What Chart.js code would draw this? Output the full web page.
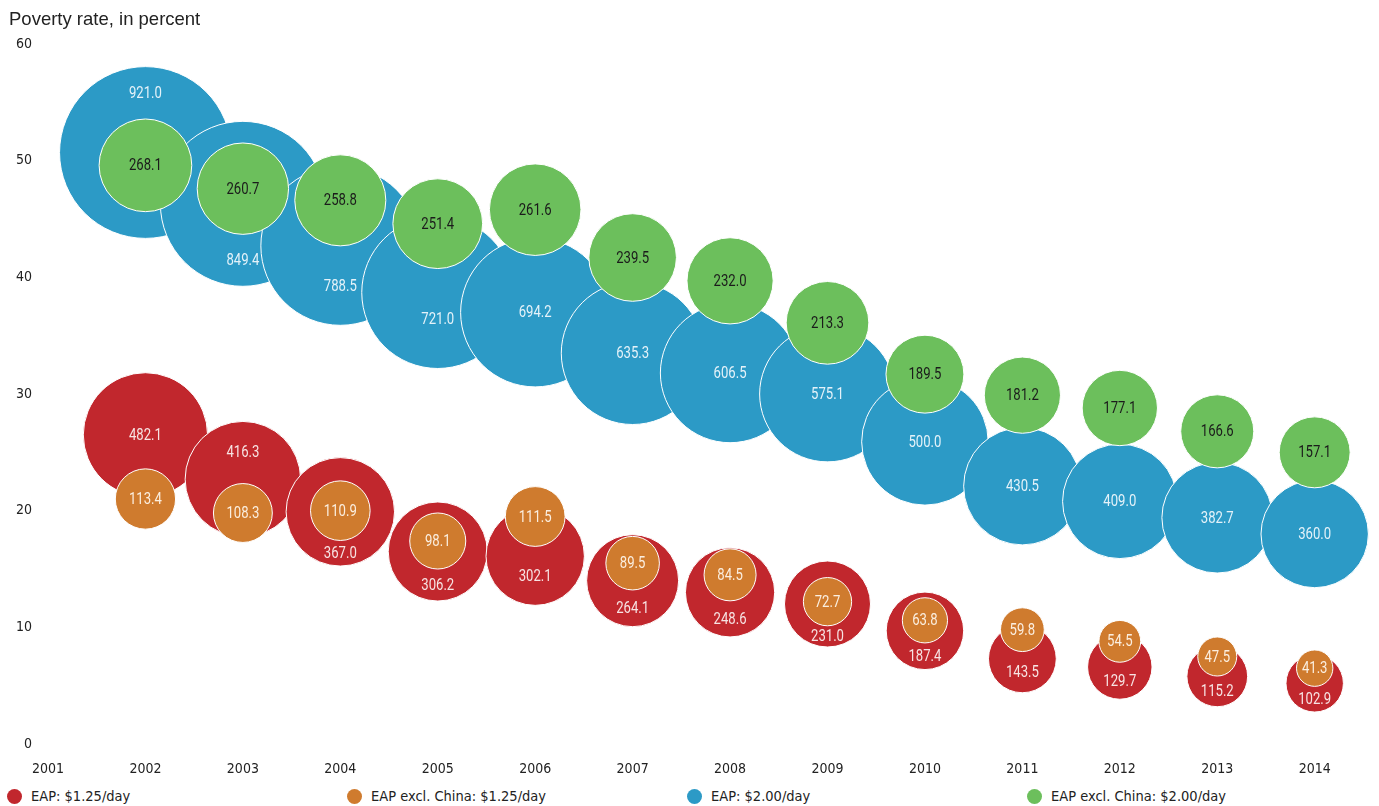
<!DOCTYPE html>
<html>
<head>
<meta charset="utf-8">
<script src="https://cdn.jsdelivr.net/npm/chart.js@4.4.1/dist/chart.umd.min.js"></script>
<style>
  html, body { margin: 0; padding: 0; background: #fff; }
  #wrap { position: relative; width: 1379px; height: 806px; overflow: hidden; }
  #title { position: absolute; left: 9px; top: 8px; font: 18.5px "Liberation Sans", Arial, sans-serif; color: #222; white-space: nowrap; }
  #chart-box { position: absolute; left: 0; top: 0; width: 1379px; height: 785px; }
  #legend { position: absolute; left: 7px; top: 786px; display: flex; }
  .item { width: 340px; height: 20px; display: flex; align-items: center; font: 14.5px "DejaVu Sans Condensed", Roboto, sans-serif; color: #222; white-space: nowrap; }
  .dot { width: 15px; height: 15px; border-radius: 50%; margin-right: 9px; flex: none; }
</style>
</head>
<body>
<div id="wrap">
  <div id="chart-box"><canvas id="c" width="1379" height="785"></canvas></div>
  <div id="title">Poverty rate, in percent</div>
  <div id="legend"></div>
</div>
<script>
const FONT = '"DejaVu Sans Condensed", Roboto, sans-serif';
const LABEL_FONT = '16px Roboto, "DejaVu Sans", sans-serif';

const YEARS = [2002, 2003, 2004, 2005, 2006, 2007, 2008, 2009, 2010, 2011, 2012, 2013, 2014];
const Y_TICKS = [0, 10, 20, 30, 40, 50, 60];

// poverty rate (%) and number of poor (millions)
const RATE_EAP_125 = [26.5, 22.7, 19.9, 16.5, 16.1, 14.0, 13.0, 12.0, 9.7, 7.3, 6.6, 5.8, 5.2];
const POOR_EAP_125 = [482.1, 416.3, 367.0, 306.2, 302.1, 264.1, 248.6, 231.0, 187.4, 143.5, 129.7, 115.2, 102.9];

const RATE_XCHN_125 = [21.0, 19.8, 20.0, 17.4, 19.5, 15.5, 14.5, 12.2, 10.6, 9.8, 8.8, 7.5, 6.5];
const POOR_XCHN_125 = [113.4, 108.3, 110.9, 98.1, 111.5, 89.5, 84.5, 72.7, 63.8, 59.8, 54.5, 47.5, 41.3];

const RATE_EAP_200 = [50.7, 46.3, 42.7, 38.7, 37.0, 33.5, 31.8, 30.0, 25.9, 22.1, 20.8, 19.4, 18.0];
const POOR_EAP_200 = [921.0, 849.4, 788.5, 721.0, 694.2, 635.3, 606.5, 575.1, 500.0, 430.5, 409.0, 382.7, 360.0];

const RATE_XCHN_200 = [49.6, 47.6, 46.6, 44.6, 45.8, 41.7, 39.7, 36.1, 31.7, 29.9, 28.8, 26.8, 25.0];
const POOR_XCHN_200 = [268.1, 260.7, 258.8, 251.4, 261.6, 239.5, 232.0, 213.3, 189.5, 181.2, 177.1, 166.6, 157.1];

const R_PER_SQRT = 2.83; // bubble area ~ number of poor

function points(rates, poor) {
  return YEARS.map((yr, i) => ({ x: yr, y: rates[i], r: R_PER_SQRT * Math.sqrt(poor[i]), v: poor[i] }));
}

const SERIES = [
  { label: 'EAP: $1.25/day', rates: RATE_EAP_125, poor: POOR_EAP_125, color: '#c1272d', text: '#f7e3e3', order: 2 },
  { label: 'EAP excl. China: $1.25/day', rates: RATE_XCHN_125, poor: POOR_XCHN_125, color: '#cf7b2e', text: '#fbeedf', order: 1 },
  { label: 'EAP: $2.00/day', rates: RATE_EAP_200, poor: POOR_EAP_200, color: '#2c9ac6', text: '#e4f2f9', order: 2 },
  { label: 'EAP excl. China: $2.00/day', rates: RATE_XCHN_200, poor: POOR_XCHN_200, color: '#6cbf5c', text: '#1b1b1b', order: 1 },
];
// [outer, inner] dataset index pairs
const PAIRS = [[0, 1], [2, 3]];

function drawLabel(ctx, text, x, y) {
  ctx.save();
  ctx.translate(x, y);
  ctx.scale(0.82, 1);
  ctx.fillText(text, 0, 0);
  ctx.restore();
}

// labels: inner bubbles centred; outer label moves into the free crescent when the inner centre sits inside it
const bubbleLabels = {
  id: 'bubbleLabels',
  afterDatasetsDraw(chart) {
    const ctx = chart.ctx;
    ctx.save();
    ctx.font = LABEL_FONT;
    ctx.textAlign = 'center';
    ctx.textBaseline = 'middle';
    PAIRS.forEach(([oi, ii]) => {
      const outer = chart.getDatasetMeta(oi).data;
      const inner = chart.getDatasetMeta(ii).data;
      const ods = chart.data.datasets[oi];
      const ids = chart.data.datasets[ii];
      outer.forEach((el, k) => {
        const inn = inner[k];
        const R = el.options.radius;
        const r = inn.options.radius;
        const d = el.y - inn.y;
        let ly = el.y;
        if (Math.abs(d) < R) {
          if (inn.y < el.y) ly = ((inn.y + r) + (el.y + R)) / 2;
          else ly = ((el.y - R) + (inn.y - r)) / 2;
        }
        ctx.fillStyle = ods.labelColor;
        drawLabel(ctx, ods.data[k].v.toFixed(1), el.x, ly + 1);
        ctx.fillStyle = ids.labelColor;
        drawLabel(ctx, ids.data[k].v.toFixed(1), inn.x, inn.y + 1);
      });
    });
    ctx.restore();
  },
};

new Chart(document.getElementById('c'), {
  type: 'bubble',
  data: {
    datasets: SERIES.map((s) => ({
      label: s.label,
      data: points(s.rates, s.poor),
      backgroundColor: s.color,
      borderColor: '#ffffff',
      borderWidth: 1,
      hoverBorderWidth: 1,
      labelColor: s.text,
      order: s.order,
      clip: false,
    })),
  },
  options: {
    responsive: false,
    animation: false,
    events: [],
    layout: { autoPadding: false, padding: { top: 44, left: 0, right: 0, bottom: 0 } },
    plugins: { legend: { display: false }, tooltip: { enabled: false }, title: { display: false } },
    scales: {
      x: {
        type: 'linear',
        min: 2001,
        max: 2014.66,
        grid: { display: false, drawTicks: false },
        border: { display: false },
        ticks: {
          stepSize: 1,
          includeBounds: false,
          padding: 17,
          maxRotation: 0,
          color: '#222',
          font: { family: FONT, size: 14 },
          callback: (v) => String(v),
        },
        afterFit: (scale) => { scale.height = 41; },
      },
      y: {
        min: Y_TICKS[0],
        max: Y_TICKS[Y_TICKS.length - 1],
        grid: { display: false, drawTicks: false },
        border: { display: false },
        afterBuildTicks: (scale) => { scale.ticks = Y_TICKS.map((v) => ({ value: v })); },
        ticks: {
          padding: 16,
          color: '#222',
          font: { family: FONT, size: 14 },
          callback: (v) => String(v),
        },
        afterFit: (scale) => { scale.width = 48; },
      },
    },
  },
  plugins: [bubbleLabels],
});

const legend = document.getElementById('legend');
SERIES.forEach((s) => {
  const item = document.createElement('div');
  item.className = 'item';
  const dot = document.createElement('span');
  dot.className = 'dot';
  dot.style.background = s.color;
  item.appendChild(dot);
  item.appendChild(document.createTextNode(s.label));
  legend.appendChild(item);
});
</script>
</body>
</html>
